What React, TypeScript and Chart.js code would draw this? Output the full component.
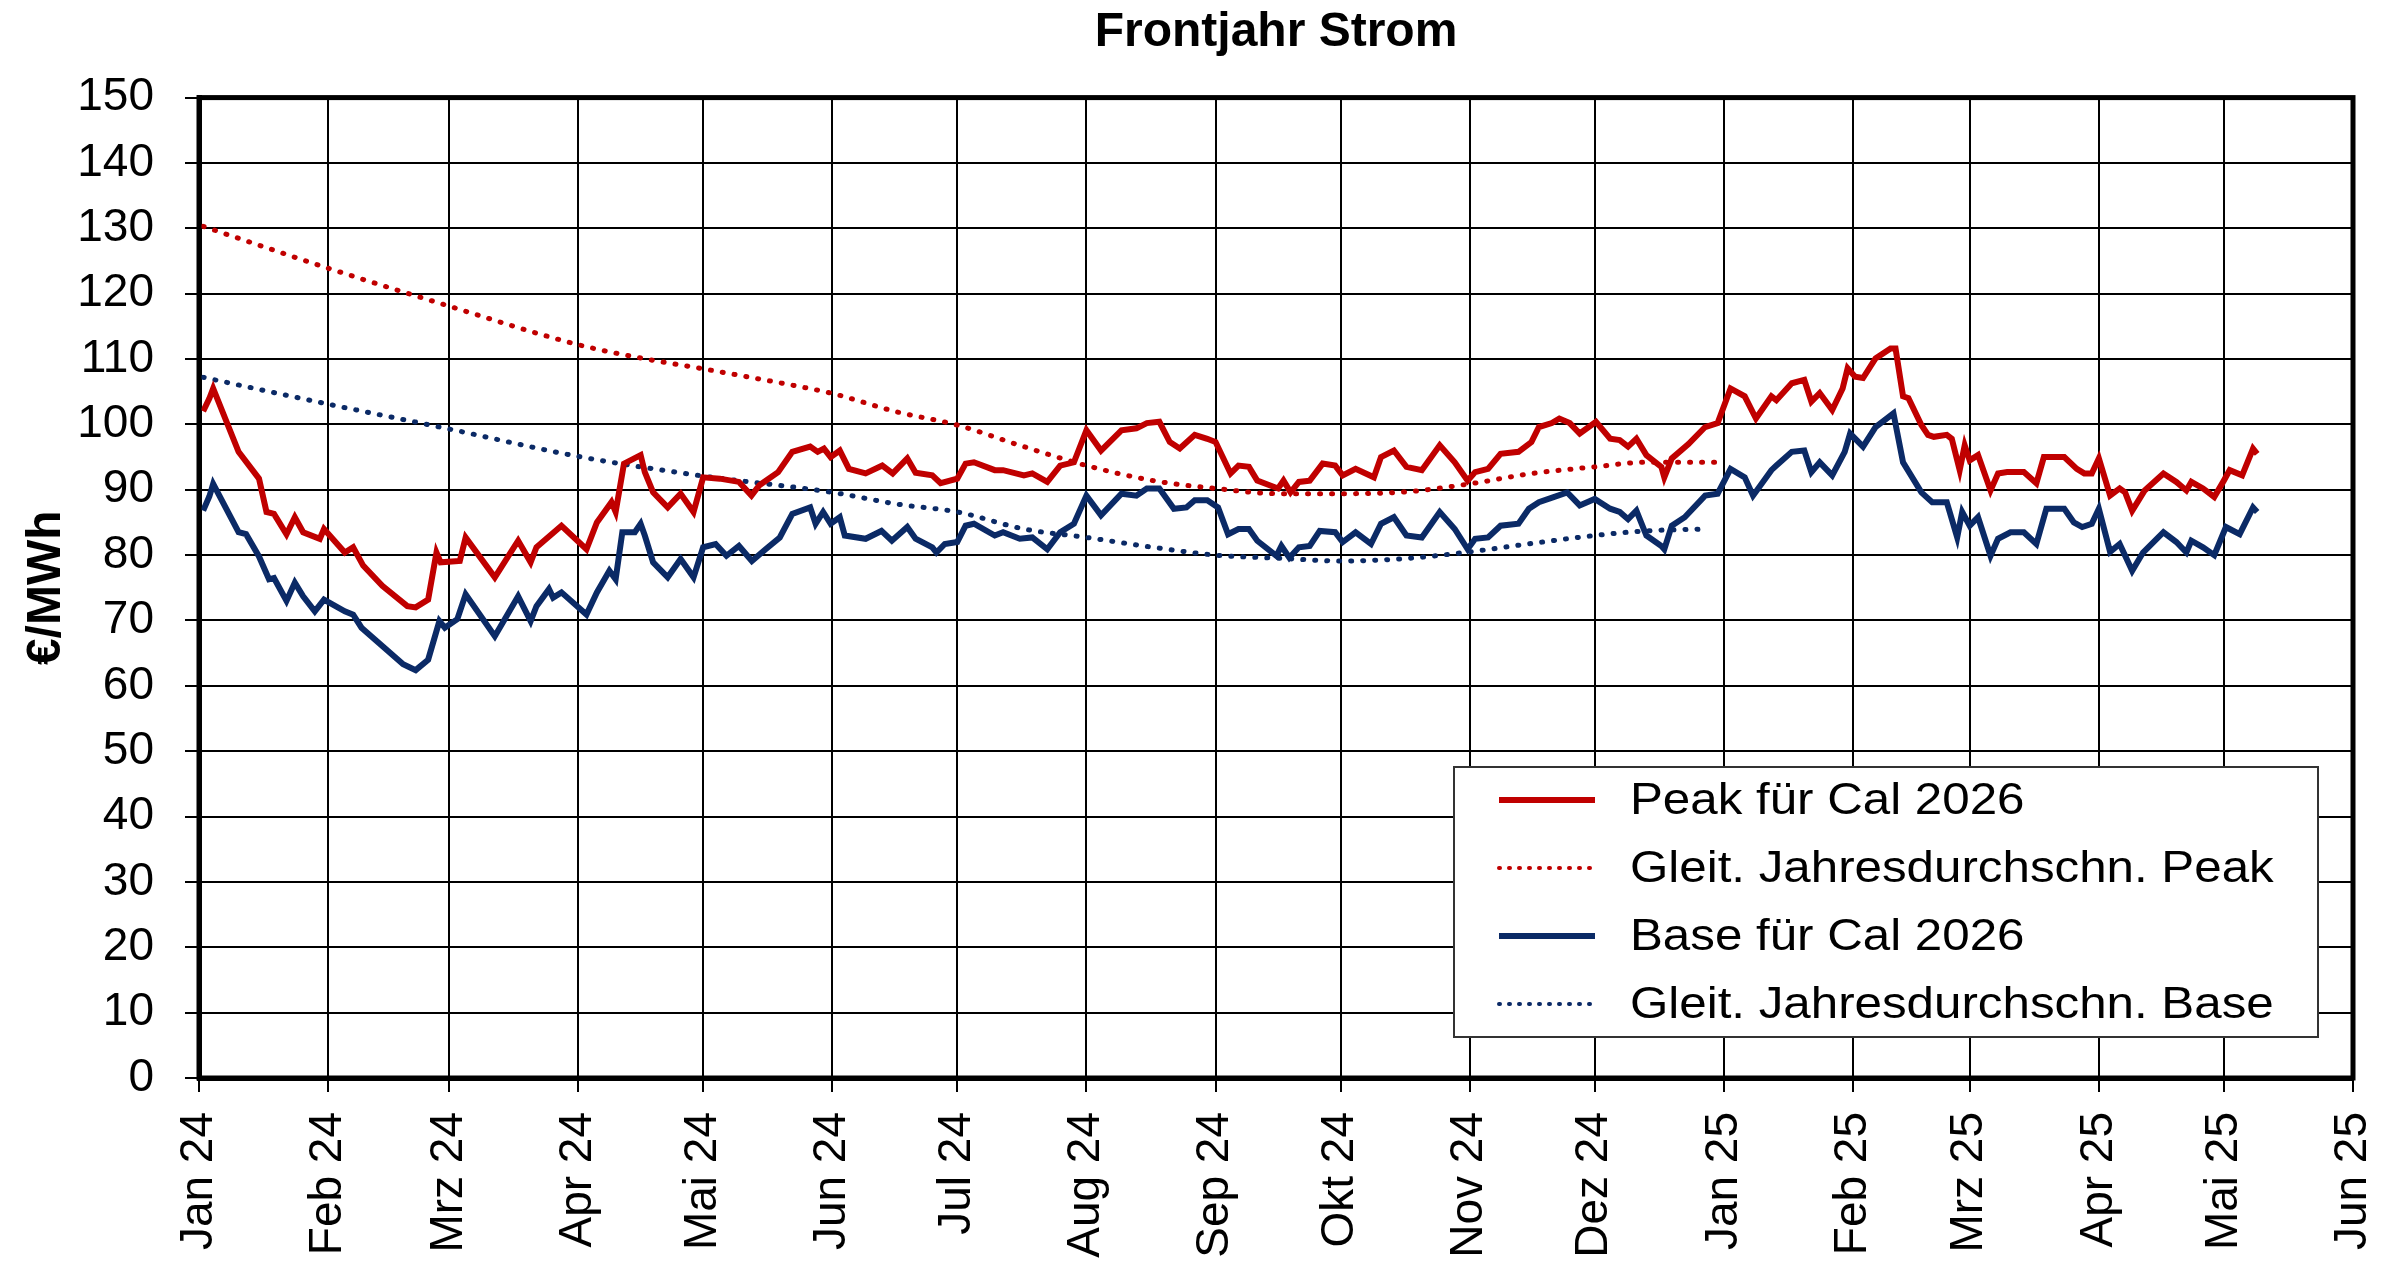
import { useEffect, useRef } from 'react'
import { Chart, registerables } from 'chart.js'
Chart.register(...registerables)

// x = days since 1 Jan 2024
const monthStarts = [0, 31, 60, 91, 121, 152, 182, 213, 244, 274, 305, 335, 366, 397, 425, 456, 486, 517]
const monthLabels = ['Jan 24', 'Feb 24', 'Mrz 24', 'Apr 24', 'Mai 24', 'Jun 24', 'Jul 24', 'Aug 24', 'Sep 24', 'Okt 24', 'Nov 24', 'Dez 24', 'Jan 25', 'Feb 25', 'Mrz 25', 'Apr 25', 'Mai 25', 'Jun 25']

const peakCal26 = [
  [1, 102], [2.5, 104], [3.4, 105.5], [9.5, 95.8], [14.4, 91.7], [16.2, 86.6], [18, 86.3], [21, 83.2], [23, 85.8], [25, 83.5],
  [29, 82.5], [30, 84], [35, 80.4], [37, 81.2], [39.4, 78.4], [44, 75.3], [50, 72.2], [52, 72], [55, 73.2], [57, 80.4],
  [58, 78.9], [62.6, 79.1], [64, 82.7], [71, 76.6], [76.6, 82.2], [79.6, 78.9], [81, 81.2], [87, 84.5], [93, 80.9], [95.5, 85],
  [99, 88.1], [100, 86.6], [102, 94], [106, 95.3], [107, 92.7], [109, 89.6], [112.5, 87.3], [115.6, 89.4], [118.7, 86.6], [121, 91.9],
  [125, 91.7], [129.6, 91.2], [132.6, 89.1], [134.5, 90.7], [139, 92.7], [142.4, 95.8], [146.7, 96.6], [148.5, 95.8], [150, 96.3], [151.6, 95],
  [153.8, 96], [156, 93.2], [160, 92.5], [164, 93.7], [166.5, 92.5], [170, 94.8], [172, 92.6], [176, 92.2], [178, 91], [182, 91.7],
  [184, 94], [186, 94.2], [191, 93], [193, 93], [198, 92.2], [200, 92.5], [203.6, 91.2], [206.7, 93.7], [210, 94.2], [213, 99.1],
  [216.5, 96], [221.4, 99.1], [225, 99.4], [227.5, 100.2], [230.5, 100.4], [233, 97.3], [235.4, 96.3], [239, 98.4], [242, 97.8], [244, 97.3],
  [247.6, 92.5], [249.5, 93.7], [252, 93.5], [254, 91.4], [259, 90.2], [260.3, 91.4], [262, 89.6], [264, 91.2], [266.6, 91.4], [269.7, 94],
  [272.7, 93.7], [274.5, 92.2], [277.6, 93.2], [282, 91.9], [283.7, 95], [286.8, 96], [289.8, 93.5], [293.5, 93], [297.8, 96.8], [301.4, 94.2],
  [304.5, 91.4], [306.3, 92.7], [309.4, 93.2], [312.4, 95.5], [316.7, 95.8], [319.8, 97.3], [321.6, 99.6], [324.7, 100.2], [326.5, 100.9], [329, 100.2],
  [331.4, 98.6], [335.3, 100.4], [338.7, 97.8], [341, 97.6], [343, 96.6], [345, 97.8], [347.4, 95.3], [351, 93.5], [351.7, 91.9], [353.5, 94.8],
  [357.5, 97], [361.5, 99.6], [364.5, 100.2], [367.6, 105.5], [371, 104.3], [373.7, 100.9], [377.4, 104.3], [378.6, 103.7], [382.3, 106.3], [385.3, 106.8],
  [387, 103.5], [389, 104.8], [392, 102.2], [394.5, 105.5], [395.7, 108.6], [397.5, 107.3], [399.4, 107.1], [402.4, 110.1], [406, 111.6], [407.2, 111.6],
  [409, 104.3], [410.3, 104], [413.4, 99.9], [415, 98.4], [416.4, 98.1], [419.5, 98.4], [420.7, 97.8], [422.6, 93], [423.8, 96.8], [425, 94.5],
  [427, 95.3], [430, 89.9], [431.8, 92.5], [434, 92.7], [438, 92.7], [441, 91], [442.8, 95], [447.7, 95], [450.7, 93.2], [452.5, 92.5],
  [454.3, 92.5], [456, 94.8], [458.7, 89.1], [461, 90.2], [462.3, 89.6], [464, 86.8], [467, 89.9], [471.5, 92.5], [474.6, 91.2], [477, 89.9],
  [478.2, 91.2], [481, 90.2], [483.7, 88.9], [486, 91.4], [487.4, 93], [490.4, 92.2], [493, 96.3], [494, 95.5],
]

const baseCal26 = [
  [1, 86.8], [2.5, 89], [3.4, 90.9], [9.5, 83.5], [11.3, 83.2], [14.4, 79.8], [16.8, 76.3], [18, 76.5], [21, 73], [23, 75.8],
  [25, 73.7], [27.8, 71.4], [30, 73.2], [35, 71.4], [37, 70.9], [39, 68.9], [44, 66.1], [49, 63.3], [52, 62.4], [55, 64],
  [57.7, 69.9], [59, 68.9], [62, 70.2], [64, 74], [71, 67.6], [76.6, 73.7], [79.6, 69.9], [81, 72.2], [84, 74.8], [85, 73.5],
  [87, 74.3], [93, 70.9], [95.5, 74.3], [98.5, 77.6], [100, 76.3], [101.6, 83.5], [104.6, 83.5], [106, 84.8], [107, 83], [109, 78.9],
  [112.5, 76.6], [115.6, 79.4], [118.7, 76.6], [121, 81.2], [124, 81.7], [126.6, 79.9], [129.6, 81.4], [132.7, 79.1], [136, 80.9], [139.4, 82.7],
  [142.4, 86.3], [146.7, 87.3], [148, 84.8], [149.8, 86.6], [151.6, 84.8], [153.8, 85.8], [155, 83], [160, 82.5], [163.8, 83.7], [166.3, 82.2],
  [170, 84.3], [172, 82.5], [176, 81.2], [177, 80.4], [179, 81.7], [182, 82], [184, 84.5], [186, 84.8], [191, 83], [193, 83.5],
  [197, 82.5], [200, 82.7], [203.6, 80.9], [206.7, 83.5], [210, 84.8], [213, 89.1], [216.5, 86.1], [221.4, 89.4], [225, 89.1], [227.5, 90.2],
  [230.5, 90.2], [234, 87.1], [237, 87.3], [239, 88.4], [242, 88.4], [244.6, 87.3], [247, 83.2], [249.5, 84], [252, 84], [254, 82.2],
  [258.6, 79.9], [259.8, 81.4], [261.7, 79.6], [264, 81.2], [266.6, 81.4], [269, 83.7], [272.7, 83.5], [274.5, 82], [277.6, 83.5], [281.3, 81.7],
  [283.7, 84.8], [286.8, 85.8], [289.8, 83], [293.5, 82.7], [297.8, 86.6], [301.4, 84], [304.5, 80.9], [306.3, 82.5], [309.4, 82.7], [312.4, 84.5],
  [316.7, 84.8], [319.2, 87.1], [321.6, 88.1], [325.3, 88.9], [328.4, 89.6], [331.4, 87.6], [335, 88.6], [338.7, 87.1], [341, 86.6], [343, 85.5],
  [345, 86.8], [347.4, 83], [351, 81.4], [351.7, 80.9], [353.5, 84.5], [356.6, 85.8], [361.5, 89.1], [364.5, 89.4], [367.6, 93.2], [371, 91.9],
  [373, 89.1], [377.4, 93], [378.6, 93.7], [382.3, 95.8], [385.3, 96], [387, 92.7], [389, 94.2], [392, 92.2], [395, 95.8], [396.3, 98.6],
  [399.4, 96.6], [402.4, 99.6], [406.7, 101.7], [409, 94.2], [413.4, 89.6], [416, 88.1], [419.5, 88.1], [422, 82.7], [423.2, 86.6], [425, 84.5],
  [427, 85.8], [430, 79.9], [431.8, 82.5], [434.8, 83.5], [438, 83.5], [441, 81.7], [443.4, 87.1], [447.7, 87.1], [450, 85], [452, 84.3],
  [454.3, 84.8], [456, 87.1], [458.7, 80.5], [461, 81.7], [464, 77.6], [466.6, 80.4], [471.5, 83.5], [474.6, 82], [477, 80.4], [478.2, 82.2],
  [481, 81.2], [483.7, 80], [486.5, 84.3], [489.8, 83.2], [493, 87.3], [494, 86.6],
]

const peakYearAvg = [
  [1, 130.3], [31, 123.9], [60, 118.1], [91, 112.2], [106.5, 110.1], [121, 108.5], [144, 105.8], [151.6, 104.8], [167.6, 101.9], [182, 99.9],
  [197, 96.8], [213, 93.7], [229, 91.4], [244, 90.2], [259, 89.4], [274, 89.4], [290, 89.7], [305, 90.9], [320, 92.5], [335, 93.5],
  [347, 94.2], [364, 94.2],
]

const baseYearAvg = [
  [1, 107.2], [31, 103.1], [60, 99.3], [91, 95.1], [121, 92.1], [152, 89.6], [167.6, 87.8], [182, 86.6], [198, 84], [213, 82.7],
  [229, 81.2], [244, 80], [260, 79.5], [274, 79.1], [290, 79.5], [305, 80.5], [320, 81.8], [335, 83], [347, 83.7], [362, 84],
]

const RED = '#C00000'
const BLUE = '#0B2A66'
const FONT = '"Liberation Sans", Arial, sans-serif'

const toXY = (pts: number[][]) => pts.map(([x, y]) => ({ x, y }))

// frame round the plot area
const frame = {
  id: 'frame',
  afterDatasetsDraw(chart: Chart) {
    const { ctx, chartArea: a } = chart
    ctx.save()
    ctx.strokeStyle = '#000'
    ctx.lineWidth = 5
    ctx.strokeRect(a.left, a.top, a.right - a.left, a.bottom - a.top)
    ctx.restore()
  },
}

// boxed legend in the lower right corner
const legendBox = {
  id: 'legendBox',
  afterDraw(chart: Chart) {
    const { ctx, chartArea: a } = chart
    const w = 864, h = 270
    const x0 = a.right - 35 - w
    const y0 = a.bottom - 41 - h
    ctx.save()
    ctx.fillStyle = '#fff'
    ctx.fillRect(x0, y0, w, h)
    ctx.strokeStyle = '#333'
    ctx.lineWidth = 2
    ctx.strokeRect(x0, y0, w, h)
    chart.data.datasets.forEach((ds: any, i: number) => {
      const cy = y0 + 33 + i * 68
      const dotted = !!ds.borderDash
      ctx.beginPath()
      ctx.setLineDash(dotted ? [1, 9] : [])
      ctx.lineCap = dotted ? 'round' : 'butt'
      ctx.strokeStyle = ds.borderColor
      ctx.lineWidth = dotted ? 4 : 6
      ctx.moveTo(x0 + 45, cy)
      ctx.lineTo(x0 + 141, cy)
      ctx.stroke()
      ctx.setLineDash([])
      // text is a little wider than plain Arial in the original
      ctx.save()
      ctx.translate(x0 + 176, cy + 2)
      ctx.scale(1.12, 1)
      ctx.fillStyle = '#000'
      ctx.font = `44px ${FONT}`
      ctx.textBaseline = 'middle'
      ctx.textAlign = 'left'
      ctx.fillText(ds.label, 0, 0)
      ctx.restore()
    })
    ctx.restore()
  },
}

export default function App() {
  const ref = useRef<HTMLCanvasElement>(null)

  useEffect(() => {
    document.body.style.margin = '0'
    if (!ref.current) return
    Chart.defaults.font.family = FONT
    Chart.defaults.color = '#000'

    const chart = new Chart(ref.current, {
      type: 'line',
      data: {
        datasets: [
          {
            label: 'Peak für Cal 2026', data: toXY(peakCal26),
            borderColor: RED, borderWidth: 6, pointRadius: 0, tension: 0,
          },
          {
            label: 'Gleit. Jahresdurchschn. Peak', data: toXY(peakYearAvg),
            borderColor: RED, borderWidth: 5, borderDash: [1, 11], borderCapStyle: 'round',
            pointRadius: 0, cubicInterpolationMode: 'monotone',
          },
          {
            label: 'Base für Cal 2026', data: toXY(baseCal26),
            borderColor: BLUE, borderWidth: 6, pointRadius: 0, tension: 0,
          },
          {
            label: 'Gleit. Jahresdurchschn. Base', data: toXY(baseYearAvg),
            borderColor: BLUE, borderWidth: 5, borderDash: [1, 11], borderCapStyle: 'round',
            pointRadius: 0, cubicInterpolationMode: 'monotone',
          },
        ],
      },
      options: {
        responsive: true, maintainAspectRatio: false, animation: false,
        layout: { padding: { left: 0, right: 47, top: 0, bottom: 0 } },
        plugins: {
          legend: { display: false },
          tooltip: { enabled: false },
          title: {
            display: true, fullSize: false, text: 'Frontjahr Strom', color: '#000',
            font: { size: 48, weight: 'bold' }, padding: { top: 4, bottom: 36 },
          },
        },
        scales: {
          x: {
            type: 'linear', min: 0, max: 517,
            afterBuildTicks: s => { s.ticks = monthStarts.map(v => ({ value: v })) },
            afterFit: s => { s.height = 202; s.paddingLeft = 0; s.paddingRight = 0 },
            grid: { color: '#000', lineWidth: 2, tickLength: 14, tickColor: '#000', tickWidth: 2 },
            border: { display: true, color: '#000', width: 5 },
            ticks: {
              autoSkip: false, minRotation: 90, maxRotation: 90, padding: 20,
              font: { size: 46 }, color: '#000',
              callback: (_v, i) => monthLabels[i],
            },
          },
          y: {
            min: 0, max: 150,
            afterFit: s => { s.width = 199 },
            grid: { color: '#000', lineWidth: 2, tickLength: 14, tickColor: '#000', tickWidth: 2 },
            border: { display: true, color: '#000', width: 5 },
            ticks: { stepSize: 10, padding: 31, font: { size: 46 }, color: '#000' },
            title: {
              display: true, text: '€/MWh', color: '#000',
              font: { size: 48, weight: 'bold' }, padding: { top: 18, bottom: 0 },
            },
          },
        },
      },
      plugins: [frame, legendBox],
    })
    return () => chart.destroy()
  }, [])

  return (
    <div style={{ width: 2400, height: 1280, background: '#fff', position: 'relative' }}>
      <canvas ref={ref} />
    </div>
  )
}
